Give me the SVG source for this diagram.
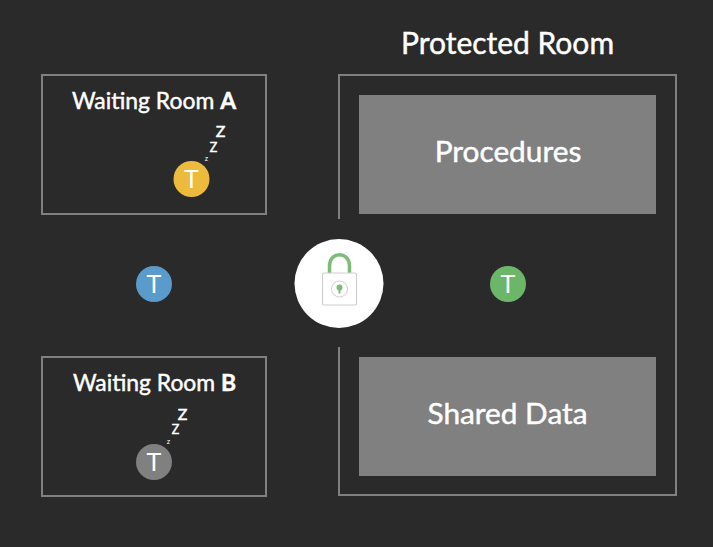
<svg xmlns="http://www.w3.org/2000/svg" width="713" height="547" viewBox="0 0 713 547">
<style>
text{font-family:"Lato","Open Sans","Liberation Sans",sans-serif;fill:#fff;text-anchor:middle;stroke:#fff;stroke-width:.45px}
.room{fill:none;stroke:#808080;stroke-width:2}
.title{font-size:22.900px}
.head{font-size:30px}
.block{fill:#808080}
.big{font-size:29.800px}
.t{font-size:25px;stroke-width:0}
.z1{font-size:16px}
.z2{font-size:12.500px}
.z3{font-size:7.500px;stroke-width:0}
</style>
<rect width="713" height="547" fill="#2a2a2a"/>
<g id="waiting-a">
<rect class="room" x="42" y="75" width="224" height="139"/>
<text class="title" x="154" y="108.500">Waiting Room <tspan font-weight="700">A</tspan></text>
</g>
<g id="waiting-b">
<rect class="room" x="42" y="357" width="224" height="139"/>
<text class="title" x="154.500" y="390.500">Waiting Room <tspan font-weight="700">B</tspan></text>
</g>
<g id="protected-room">
<text class="head" x="507.500" y="53.500">Protected Room</text>
<path class="room" d="M339 219V75H676V495H339V347"/>
</g>
<g id="procedures">
<rect class="block" x="359" y="95" width="297" height="119"/>
<text class="big" x="508" y="162">Procedures</text>
</g>
<g id="shared-data">
<rect class="block" x="359" y="357" width="297" height="119"/>
<text class="big" x="507.500" y="424">Shared Data</text>
</g>
<g id="token-a">
<circle cx="191.500" cy="179" r="18" fill="#ecbb3e"/>
<text class="t" x="191.500" y="188">T</text>
<text class="z1" x="220.500" y="137">Z</text>
<text class="z2" x="213.500" y="152">Z</text>
<text class="z3" x="206.500" y="161">z</text>
</g>
<g id="token-b">
<circle cx="154" cy="462" r="18" fill="#808080"/>
<text class="t" x="154" y="471">T</text>
<text class="z1" x="182.500" y="420">Z</text>
<text class="z2" x="175.500" y="434">Z</text>
<text class="z3" x="168.500" y="444">z</text>
</g>
<g id="token-blue">
<circle cx="154" cy="284" r="18" fill="#5b9bcb"/>
<text class="t" x="154" y="293">T</text>
</g>
<g id="token-green">
<circle cx="508" cy="284" r="18" fill="#6cb66a"/>
<text class="t" x="508" y="293">T</text>
</g>
<g id="lock">
<circle cx="339" cy="283.500" r="44.500" fill="#fff"/>
<path d="M329.500 273V266C329.500 251 349.500 251 349.500 266V273" fill="none" stroke="#7dbb78" stroke-width="3.500"/>
<rect x="322.500" y="273" width="34" height="32" rx="1.500" fill="#fff" stroke="#cfcfcf" stroke-width="1.200"/>
<circle cx="339.500" cy="289" r="8" fill="none" stroke="#cfcfcf" stroke-width="1"/>
<circle cx="339.500" cy="287.500" r="3" fill="#7dbb78"/>
<path d="M338.500 288H340.500V293.500H338.500Z" fill="#7dbb78"/>
</g>
<g id="connectors"></g>
</svg>
